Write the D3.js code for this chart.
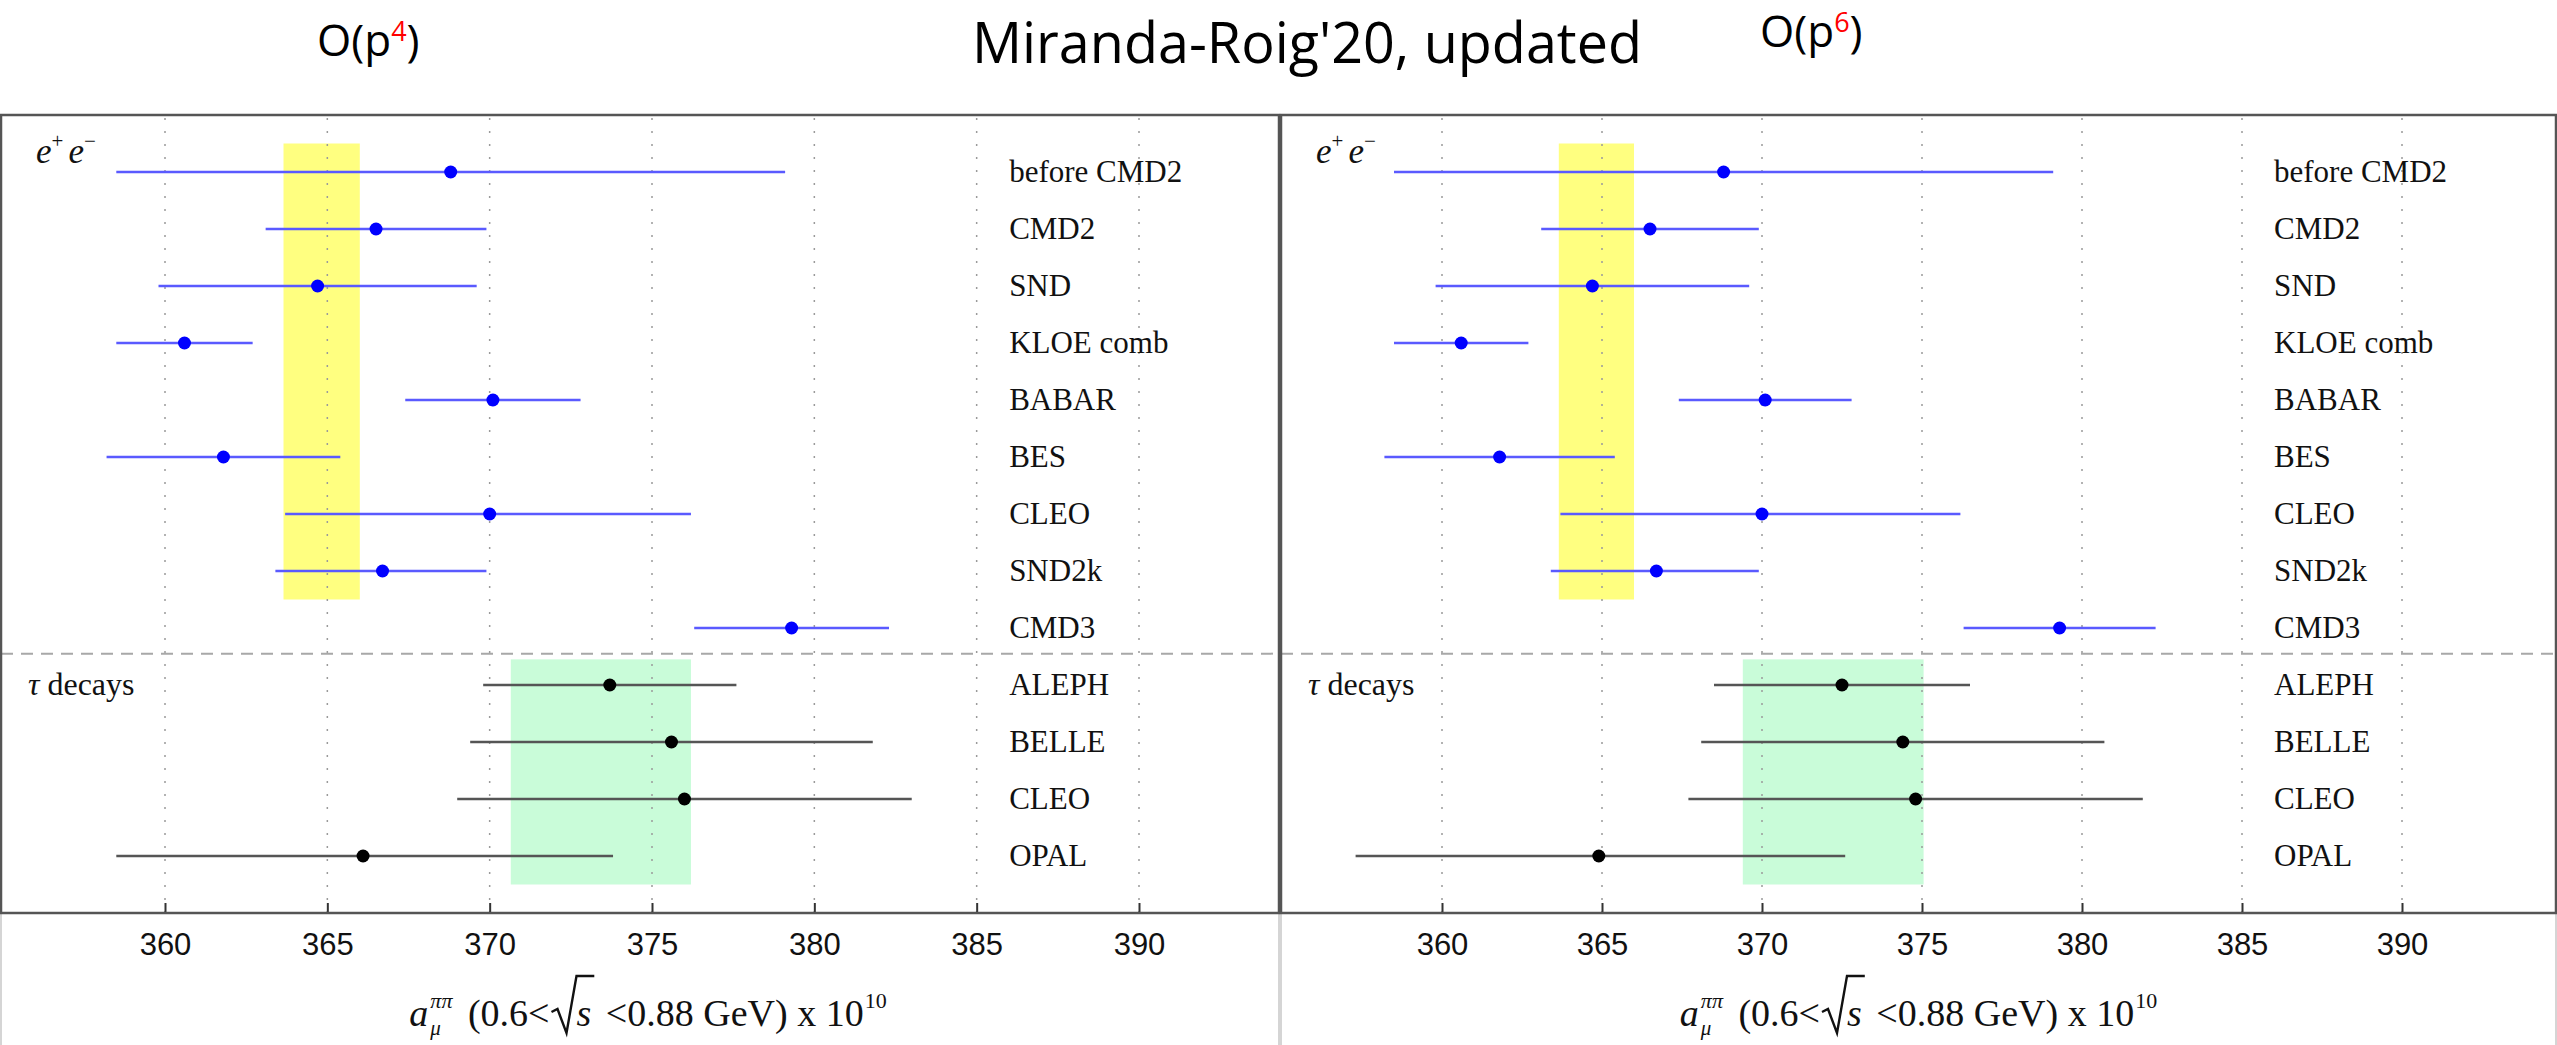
<!DOCTYPE html>
<html>
<head>
<meta charset="utf-8">
<script src="https://cdn.jsdelivr.net/npm/d3@7"></script>
<style>
  body { margin: 0; background: #fff; }
  svg { display: block; }
  text { white-space: pre; }
</style>
</head>
<body>
<svg id="chart" width="2557" height="1045"></svg>
<script>
// e+e- experiments (same in both panels)
const eeNames   = ["before CMD2", "CMD2", "SND", "KLOE comb", "BABAR", "BES", "CLEO", "SND2k", "CMD3"];
const eeCentral = [368.8, 366.5, 364.7, 360.6, 370.1, 361.8, 370.0, 366.7, 379.3];
const eeLow     = [358.5, 363.1, 359.8, 358.5, 367.4, 358.2, 363.7, 363.4, 376.3];
const eeHigh    = [379.1, 369.9, 369.6, 362.7, 372.8, 365.4, 376.2, 369.9, 382.3];

// tau decays
const tauNames = ["ALEPH", "BELLE", "CLEO", "OPAL"];
// O(p^4)
const tauCentral4 = [373.7, 375.6, 376.0, 366.1];
const tauLow4     = [369.8, 369.4, 369.0, 358.5];
const tauHigh4    = [377.6, 381.8, 383.0, 373.8];
// O(p^6)
const tauCentral6 = [372.5, 374.4, 374.8, 364.9];
const tauLow6     = [368.5, 368.1, 367.7, 357.3];
const tauHigh6    = [376.5, 380.7, 381.9, 372.6];

// averages (bands)
const eeBand   = [363.65, 366.0];
const tauBand4 = [370.65, 376.2];
const tauBand6 = [369.4, 375.05];

const xTicks = [360, 365, 370, 375, 380, 385, 390];

const svg = d3.select("#chart");

// rows: 0..8 e+e-, 9..12 tau
const y = d3.scaleLinear().domain([-1, 13]).range([115, 913]);

function rows(names, c, lo, hi, offset) {
  return names.map((n, i) => ({name: n, c: c[i], lo: lo[i], hi: hi[i], row: i + offset}));
}
const eeRows = rows(eeNames, eeCentral, eeLow, eeHigh, 0);

const panels = [
  {left: 1, right: 1279, range: [165, 1139], order: "4", tau: rows(tauNames, tauCentral4, tauLow4, tauHigh4, 9), band: tauBand4,
   orderX: 317, orderY: 56, titleShift: 8},
  {left: 1281, right: 2556, range: [1442, 2402], order: "6", tau: rows(tauNames, tauCentral6, tauLow6, tauHigh6, 9), band: tauBand6,
   orderX: 1760, orderY: 47, titleShift: 0}
];

const serif = "'Liberation Serif', 'Times New Roman', serif";

panels.forEach(p => {
  const x = d3.scaleLinear().domain([360, 390]).range(p.range);
  const g = svg.append("g");
  const top = y(-1), bottom = y(13);

  // light frame of the picture below the axis
  g.append("path")
    .attr("d", `M${p.left},${bottom}V1045M${p.right},${bottom}V1045`)
    .attr("stroke", "#c8c8c8").attr("stroke-width", 1.5).attr("fill", "none");

  // average bands
  g.append("rect")
    .attr("x", x(eeBand[0])).attr("width", x(eeBand[1]) - x(eeBand[0]))
    .attr("y", y(-0.5)).attr("height", y(7.5) - y(-0.5))
    .attr("fill", "#ffff80");
  g.append("rect")
    .attr("x", x(p.band[0])).attr("width", x(p.band[1]) - x(p.band[0]))
    .attr("y", y(8.55)).attr("height", y(12.5) - y(8.55))
    .attr("fill", "#c9fcd9");

  // dotted grid
  g.selectAll(".grid").data(xTicks).join("line")
    .attr("x1", d => x(d)).attr("x2", d => x(d))
    .attr("y1", top + 3).attr("y2", bottom)
    .attr("stroke", "#9a9a9a").attr("stroke-width", 1.5)
    .attr("stroke-dasharray", "2,11");

  // separator
  g.append("line")
    .attr("x1", p.left).attr("x2", p.right)
    .attr("y1", y(8.45)).attr("y2", y(8.45))
    .attr("stroke", "#a8a8a8").attr("stroke-width", 2)
    .attr("stroke-dasharray", "12,8");

  // bottom axis, ticks pointing inside
  const axis = g.append("g")
    .attr("transform", `translate(0,${bottom})`)
    .call(d3.axisBottom(x).tickValues(xTicks).tickSizeInner(-10).tickSizeOuter(0).tickPadding(20));
  axis.select(".domain").remove();
  axis.selectAll(".tick line").attr("stroke", "#333").attr("stroke-width", 2);
  axis.selectAll(".tick text")
    .attr("font-family", "'Liberation Sans', Arial, sans-serif")
    .attr("font-size", 31).attr("fill", "#111");

  // plot frame
  g.append("rect")
    .attr("x", p.left).attr("y", top)
    .attr("width", p.right - p.left).attr("height", bottom - top)
    .attr("fill", "none").attr("stroke", "#555").attr("stroke-width", 2.5);

  // error bars
  const all = eeRows.concat(p.tau);
  g.selectAll(".bar").data(all).join("line")
    .attr("x1", d => x(d.lo)).attr("x2", d => x(d.hi))
    .attr("y1", d => y(d.row)).attr("y2", d => y(d.row))
    .attr("stroke", d => d.row < 9 ? "#5a5aff" : "#555")
    .attr("stroke-width", 2.5);
  g.selectAll(".dot").data(all).join("circle")
    .attr("cx", d => x(d.c)).attr("cy", d => y(d.row)).attr("r", 6.5)
    .attr("fill", d => d.row < 9 ? "#0000ff" : "#000");

  // experiment names
  g.selectAll(".name").data(all).join("text")
    .attr("x", x(386)).attr("y", d => y(d.row)).attr("dy", "0.33em")
    .attr("font-family", serif).attr("font-size", 31).attr("fill", "#111")
    .text(d => d.name);

  // group labels
  const ee = g.append("text")
    .attr("x", p.left + 35).attr("y", 163)
    .attr("font-family", serif).attr("font-style", "italic").attr("font-size", 35).attr("fill", "#111");
  ee.append("tspan").text("e");
  ee.append("tspan").attr("dy", -15).attr("font-size", 21).attr("font-style", "normal").text("+");
  ee.append("tspan").attr("dy", 15).attr("dx", 5).text("e");
  ee.append("tspan").attr("dy", -15).attr("font-size", 21).attr("font-style", "normal").text("\u2212");

  const tau = g.append("text")
    .attr("x", p.left + 27).attr("y", 695)
    .attr("font-family", serif).attr("font-size", 32).attr("fill", "#111");
  tau.append("tspan").attr("font-style", "italic").text("\u03c4");
  tau.append("tspan").text(" decays");

  // axis title: a_mu^pipi (0.6< sqrt(s) <0.88 GeV) x 10^10
  const t = g.append("g");
  let cx = 0;
  function piece(txt, opts) {
    const el = t.append("text")
      .attr("x", cx + (opts.dx || 0)).attr("y", opts.dy || 0)
      .attr("font-family", serif).attr("font-size", opts.size || 38)
      .attr("font-style", opts.italic ? "italic" : "normal")
      .attr("fill", "#111").text(txt);
    const w = el.node().getComputedTextLength();
    if (!opts.noAdvance) cx += w + (opts.dx || 0);
    return w;
  }
  piece("a", {italic: true});
  const w1 = piece("\u03c0\u03c0", {italic: true, size: 22, dy: -18, noAdvance: true, dx: 2});
  const w2 = piece("\u03bc", {italic: true, size: 21, dy: 9, noAdvance: true, dx: 2});
  cx += Math.max(w1, w2) + 8;
  piece(" (0.6<", {});
  // radical sign
  const r0 = cx + 2;
  cx += 25;
  piece("s", {italic: true, dx: 2});
  t.append("path")
    .attr("d", `M${r0},${-14}l6,-3l9,24l10,-57H${cx + 3}`)
    .attr("fill", "none").attr("stroke", "#111").attr("stroke-width", 2.4);
  piece(" <0.88 GeV) x 10", {dx: 5});
  piece("10", {size: 22, dy: -18, dx: 1});
  const mid = (p.left + p.right) / 2 + p.titleShift;
  t.attr("transform", `translate(${mid - cx / 2},1026)`);

  // chiral order label
  const o = svg.append("text")
    .attr("x", p.orderX).attr("y", p.orderY)
    .attr("font-family", "'Open Sans', 'Noto Sans', sans-serif").attr("font-size", 44).attr("fill", "#000");
  o.append("tspan").text("O(p");
  o.append("tspan").attr("fill", "#ff0000").attr("font-size", 27).attr("dy", -15).text(p.order);
  o.append("tspan").attr("dy", 15).text(")");
});

// main title
svg.append("text")
  .attr("x", 972).attr("y", 63)
  .attr("font-family", "'Open Sans', 'Noto Sans', sans-serif").attr("font-size", 56)
  .attr("textLength", 670).attr("lengthAdjust", "spacingAndGlyphs")
  .attr("fill", "#000")
  .text("Miranda-Roig'20, updated");
</script>
</body>
</html>
